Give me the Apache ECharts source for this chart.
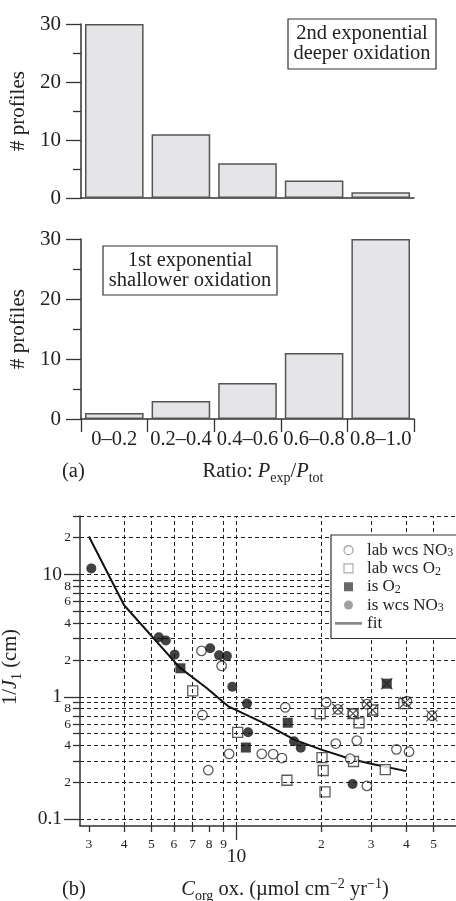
<!DOCTYPE html>
<html><head><meta charset="utf-8">
<script src="https://cdn.jsdelivr.net/npm/echarts@6/dist/echarts.min.js"></script>
<style>html,body{margin:0;padding:0;background:#fff}#c{width:456px;height:901px}</style>
</head><body><div id="c"></div>
<script>
// ---------- Panel (a) data ----------
const ratioCategories = ['0–0.2', '0.2–0.4', '0.4–0.6', '0.6–0.8', '0.8–1.0'];
const secondExpCounts = [30, 11, 6, 3, 1];
const firstExpCounts = [1, 3, 6, 11, 30];

// ---------- Panel (b) data: [C_org ox., 1/J1] ----------
const labWcsNO3 = [[7.52,2.37],[8.86,1.79],[7.58,0.71],[7.95,0.252],[9.42,0.342],[12.3,0.342],[13.5,0.34],[14.5,0.316],[14.9,0.82],[20.8,0.90],[22.9,0.79],[22.5,0.415],[25.3,0.312],[26.7,0.439],[25.9,0.73],[29.0,0.87],[29.0,0.187],[36.9,0.372],[40.9,0.356],[40.2,0.92],[49.3,0.70]];
const labWcsO2 = [[7.0,1.12],[10.1,0.513],[15.1,0.208],[19.8,0.73],[20.1,0.318],[20.3,0.25],[20.6,0.167],[26.0,0.296],[27.2,0.612],[25.9,0.73],[30.4,0.78],[33.7,0.254],[39.2,0.88]];
const isO2 = [[6.33,1.71],[10.8,0.385],[15.2,0.614],[34.1,1.28]];
const isWcsNO3 = [[3.06,11.2],[5.31,3.07],[5.62,2.89],[6.04,2.21],[8.07,2.49],[8.68,2.18],[9.25,2.15],[9.67,1.21],[10.9,0.88],[11.0,0.513],[16.0,0.433],[16.9,0.383],[25.8,0.194]];
const crossedPoints = [[22.9,0.79],[25.9,0.73],[29.0,0.87],[30.4,0.78],[34.1,1.28],[39.7,0.90],[49.3,0.70]];
const fitCurve = [[3,20.4],[4,5.6],[6.3,1.73],[7.8,1.19],[9.4,0.83],[12.5,0.61],[16.1,0.445],[20,0.37],[25.4,0.31],[30,0.284],[40,0.247]];

// ---------- Panel (b) ticks ----------
const yMinorTicks = [0.2,0.3,0.4,0.5,0.6,0.7,0.8,0.9,2,3,4,5,6,7,8,9,20,30];
const yMinorLabelValues = [0.2,0.4,0.6,0.8,2,4,6,8,20];
const yMinorLabelTexts = ['2','4','6','8','2','4','6','8','2'];
const yMajorTicks = [0.1,1,10];
const yMajorLabelTexts = ['0.1','1','10'];
const xMinorTicks = [3,4,5,6,7,8,9,20,30,40,50];
const xMinorLabelTexts = ['3','4','5','6','7','8','9','2','3','4','5'];
const xMajorTicks = [10];
const xMajorLabelTexts = ['10'];
const xGridLines = [4,5,6,7,9,10,20,30,40,50];
const yGridLines = [0.1,0.2,0.3,0.4,0.5,0.6,0.7,0.8,0.9,1,2,3,4,5,6,7,8,9,10,20,30];

const FF = 'Liberation Serif';
const INK = '#222';
const lookup = (vals, texts) => v => { const i = vals.findIndex(x => Math.abs(x - v) < 1e-9 * Math.max(1, x)); return i >= 0 ? texts[i] : ''; };

const axLine = { show: true, onZero: false, lineStyle: { color: '#333', width: 1.5 } };
const tickStyle = { color: '#333', width: 1.3 };

const histY = (gi) => ({
  type: 'value', gridIndex: gi, min: 0, max: 30, interval: 10,
  name: '# profiles', nameLocation: 'middle', nameGap: 50, nameRotate: 90,
  nameTextStyle: { fontFamily: FF, fontSize: 21, color: INK },
  axisLine: axLine,
  axisTick: { show: true, length: 15, lineStyle: tickStyle },
  minorTick: { show: true, splitNumber: 2, length: 8, lineStyle: tickStyle },
  axisLabel: { fontFamily: FF, fontSize: 21, color: INK, margin: 20 },
  splitLine: { show: false }
});

const logBase = { type: 'log', logBase: 10, min: 2.79, max: 60 };
const logY = { type: 'log', logBase: 10, min: 0.088, max: 30 };

const dashed = { type: [4, 3], color: '#222', width: 1 };
const SQUARE = 'path://M0,0H10V10H0Z';

const option = {
  animation: false,
  backgroundColor: '#fff',
  grid: [
    { left: 81, top: 24, width: 333, height: 174 },
    { left: 81, top: 239, width: 333, height: 180 },
    { left: 80, top: 516, width: 396, height: 310 },
    { left: 80, top: 516, width: 396, height: 310 }
  ],
  xAxis: [
    { type: 'category', gridIndex: 0, data: ratioCategories, axisLine: axLine, axisTick: { show: false }, axisLabel: { show: false } },
    { type: 'category', gridIndex: 1, data: ratioCategories, axisLine: axLine,
      axisTick: { show: true, length: 13, lineStyle: tickStyle },
      axisLabel: { fontFamily: FF, fontSize: 20.5, color: INK, margin: 10, interval: 0 } },
    Object.assign({}, logBase, { gridIndex: 2,
      axisLine: axLine,
      axisTick: { show: true, customValues: xMinorTicks, length: 6, lineStyle: tickStyle },
      axisLabel: { customValues: xMinorTicks, formatter: lookup(xMinorTicks, xMinorLabelTexts), fontFamily: FF, fontSize: 13.5, color: INK, margin: 11 },
      splitLine: { show: false }, minorTick: { show: false } }),
    Object.assign({}, logBase, { gridIndex: 3,
      axisLine: { show: false },
      axisTick: { show: true, customValues: xMajorTicks, length: 14, lineStyle: tickStyle },
      axisLabel: { customValues: xMajorTicks, formatter: lookup(xMajorTicks, xMajorLabelTexts), fontFamily: FF, fontSize: 19.5, color: INK, margin: 21 },
      splitLine: { show: false }, minorTick: { show: false } })
  ],
  yAxis: [
    histY(0),
    histY(1),
    Object.assign({}, logY, { gridIndex: 2,
      axisLine: axLine,
      axisTick: { show: true, customValues: yMinorTicks, length: 7, lineStyle: tickStyle },
      axisLabel: { customValues: yMinorLabelValues, formatter: lookup(yMinorLabelValues, yMinorLabelTexts), fontFamily: FF, fontSize: 13.5, color: INK, margin: 9 },
      splitLine: { show: false }, minorTick: { show: false } }),
    Object.assign({}, logY, { gridIndex: 3,
      axisLine: { show: false },
      axisTick: { show: true, customValues: yMajorTicks, length: 16, lineStyle: tickStyle },
      axisLabel: { customValues: yMajorTicks, formatter: lookup(yMajorTicks, yMajorLabelTexts), fontFamily: FF, fontSize: 19.5, color: INK, margin: 18 },
      splitLine: { show: false }, minorTick: { show: false } })
  ],
  legend: {
    orient: 'vertical', left: 331, top: 535, z: 20,
    padding: [6, 40, 6, 4],
    borderColor: '#333', borderWidth: 1.2, backgroundColor: '#fff',
    itemWidth: 27, itemHeight: 9, itemGap: 0, itemTextGap: 3,
    symbolKeepAspect: true,
    selectedMode: false,
    textStyle: { fontFamily: FF, fontSize: 17, color: INK, lineHeight: 18.3,
      rich: { sub: { fontFamily: FF, fontSize: 12, color: INK, verticalAlign: 'bottom', lineHeight: 11 } } },
    formatter: name => name.replace(/NO3$/, 'NO{sub|3}').replace(/O2$/, 'O{sub|2}'),
    data: [
      { name: 'lab wcs NO3', icon: 'circle', itemStyle: { color: '#fff', borderColor: '#888', borderWidth: 1.2 } },
      { name: 'lab wcs O2', icon: SQUARE, itemStyle: { color: '#fff', borderColor: '#999', borderWidth: 1.2 } },
      { name: 'is O2', icon: SQUARE, itemStyle: { color: '#444', borderWidth: 0 } },
      { name: 'is wcs NO3', icon: 'circle', itemStyle: { color: '#888', borderWidth: 0 } },
      { name: 'fit', icon: 'path://M0,0H30V3H0Z', itemStyle: { color: '#888', borderWidth: 0 } }
    ]
  },
  series: [
    { type: 'bar', xAxisIndex: 0, yAxisIndex: 0, data: secondExpCounts, barCategoryGap: '12%',
      itemStyle: { color: '#e5e5e7', borderColor: '#555', borderWidth: 1.5 } },
    { type: 'bar', xAxisIndex: 1, yAxisIndex: 1, data: firstExpCounts, barCategoryGap: '12%',
      itemStyle: { color: '#e5e5e7', borderColor: '#555', borderWidth: 1.5 } },
    { name: 'fit', type: 'line', xAxisIndex: 2, yAxisIndex: 2, data: fitCurve, symbol: 'none', z: 2,
      lineStyle: { color: '#111', width: 2 }, itemStyle: { color: '#111' },
      markLine: { silent: true, symbol: ['none', 'none'], label: { show: false }, lineStyle: dashed,
        data: xGridLines.map(v => ({ xAxis: v })).concat(yGridLines.map(v => ({ yAxis: v }))) } },
    { name: 'lab wcs O2', type: 'scatter', xAxisIndex: 2, yAxisIndex: 2, data: labWcsO2, symbol: 'rect', symbolSize: 10, z: 3,
      itemStyle: { color: '#fff', borderColor: '#333', borderWidth: 1.3 } },
    { name: 'lab wcs NO3', type: 'scatter', xAxisIndex: 2, yAxisIndex: 2, data: labWcsNO3, symbol: 'circle', symbolSize: 9.5, z: 4,
      itemStyle: { color: '#fff', borderColor: '#333', borderWidth: 1.3 } },
    { name: 'is O2', type: 'scatter', xAxisIndex: 2, yAxisIndex: 2, data: isO2, symbol: 'rect', symbolSize: 10, z: 5,
      itemStyle: { color: '#111' } },
    { name: 'is wcs NO3', type: 'scatter', xAxisIndex: 2, yAxisIndex: 2, data: isWcsNO3, symbol: 'circle', symbolSize: 10, z: 5,
      itemStyle: { color: '#111' } },
    { name: 'crossed', type: 'scatter', xAxisIndex: 2, yAxisIndex: 2, data: crossedPoints, z: 6,
      symbol: 'path://M0,0.7L0.7,0L5,4.3L9.3,0L10,0.7L5.7,5L10,9.3L9.3,10L5,5.7L0.7,10L0,9.3L4.3,5Z', symbolSize: 12,
      itemStyle: { color: '#222' } }
  ],
  graphic: [
    { type: 'rect', shape: { x: 288, y: 19, width: 148, height: 50 }, style: { fill: '#fff', stroke: '#333', lineWidth: 1.2 }, z: 10 },
    { type: 'text', x: 362, y: 44, z: 11, style: { text: '2nd exponential\ndeeper oxidation', align: 'center', verticalAlign: 'middle', fontFamily: FF, fontSize: 20.5, lineHeight: 20, fill: INK } },
    { type: 'rect', shape: { x: 103, y: 246, width: 174, height: 49 }, style: { fill: '#fff', stroke: '#333', lineWidth: 1.2 }, z: 10 },
    { type: 'text', x: 190, y: 270.5, z: 11, style: { text: '1st exponential\nshallower oxidation', align: 'center', verticalAlign: 'middle', fontFamily: FF, fontSize: 20.5, lineHeight: 20, fill: INK } },
    { type: 'text', x: 62, y: 472, style: { text: '(a)', align: 'left', verticalAlign: 'middle', fontFamily: FF, fontSize: 20.5, fill: INK } },
    { type: 'text', x: 263, y: 472, style: { text: 'Ratio: {i|P}{sub|exp}/{i|P}{sub|tot}', align: 'center', verticalAlign: 'middle', fontFamily: FF, fontSize: 20.5, lineHeight: 26, fill: INK,
      rich: { i: { fontFamily: FF, fontSize: 20.5, fontStyle: 'italic', lineHeight: 26 }, sub: { fontFamily: FF, fontSize: 14, verticalAlign: 'bottom', lineHeight: 13 } } } },
    { type: 'text', x: 62, y: 890, style: { text: '(b)', align: 'left', verticalAlign: 'middle', fontFamily: FF, fontSize: 20.5, fill: INK } },
    { type: 'text', x: 285, y: 890, style: { text: '{i|C}{sub|org} ox. (µmol cm{sup|−2} yr{sup|−1})', align: 'center', verticalAlign: 'middle', fontFamily: FF, fontSize: 20.5, lineHeight: 26, fill: INK,
      rich: { i: { fontFamily: FF, fontSize: 20.5, fontStyle: 'italic', lineHeight: 26 }, sub: { fontFamily: FF, fontSize: 14, verticalAlign: 'bottom', lineHeight: 13 }, sup: { fontFamily: FF, fontSize: 14, verticalAlign: 'top', lineHeight: 13 } } } },
    { type: 'text', x: 11, y: 667, rotation: Math.PI / 2, style: { text: '1/{i|J}{sub|1} (cm)', align: 'center', verticalAlign: 'middle', fontFamily: FF, fontSize: 20.5, lineHeight: 26, fill: INK,
      rich: { i: { fontFamily: FF, fontSize: 20.5, fontStyle: 'italic', lineHeight: 26 }, sub: { fontFamily: FF, fontSize: 14, verticalAlign: 'bottom', lineHeight: 13 } } } }
  ]
};

const chart = echarts.init(document.getElementById('c'), null, { renderer: 'canvas' });
chart.setOption(option);
</script>
</body></html>
